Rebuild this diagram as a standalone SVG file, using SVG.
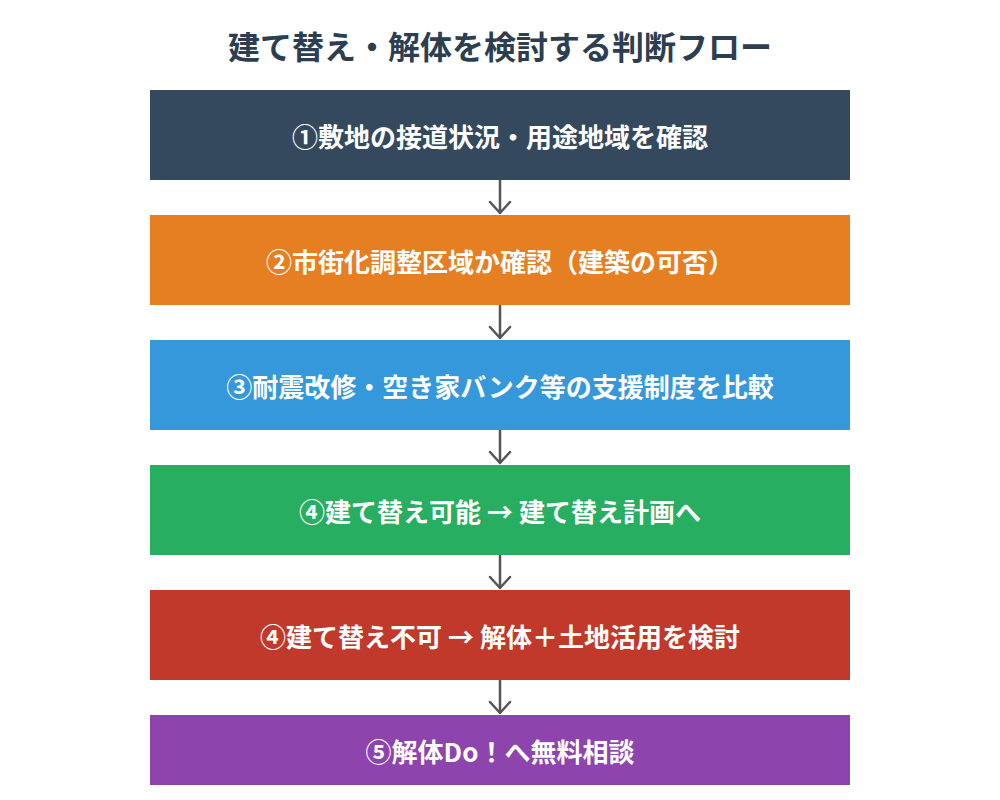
<svg xmlns="http://www.w3.org/2000/svg" width="1000" height="800" viewBox="0 0 1000 800">
<style>
.t{font-family:"Noto Sans CJK JP","Noto Sans",sans-serif;font-weight:bold;text-anchor:middle;dominant-baseline:central}
.title{font-size:32px;fill:#2c3e50}
.lbl{font-size:26px;fill:#ffffff}
.c{stroke:#555555;stroke-width:2.5;fill:none;stroke-linecap:round;stroke-linejoin:round}
</style>
<rect width="1000" height="800" fill="#ffffff"/>
<text class="t title" x="500" y="45">建て替え・解体を検討する判断フロー</text>
<g id="connectors">
<path class="c" d="M500 180V213M490 202L500 213L510 202"/>
<path class="c" d="M500 305V338M490 327L500 338L510 327"/>
<path class="c" d="M500 430V463M490 452L500 463L510 452"/>
<path class="c" d="M500 555V588M490 577L500 588L510 577"/>
<path class="c" d="M500 680V713M490 702L500 713L510 702"/>
</g>
<g id="n1"><rect x="150" y="90" width="700" height="90" fill="#34495e"/><text class="t lbl" x="500" y="135">①敷地の接道状況・用途地域を確認</text></g>
<g id="n2"><rect x="150" y="215" width="700" height="90" fill="#e67e22"/><text class="t lbl" x="500" y="260">②市街化調整区域か確認（建築の可否）</text></g>
<g id="n3"><rect x="150" y="340" width="700" height="90" fill="#3498db"/><text class="t lbl" x="500" y="385">③耐震改修・空き家バンク等の支援制度を比較</text></g>
<g id="n4"><rect x="150" y="465" width="700" height="90" fill="#27ae60"/><text class="t lbl" x="500" y="510">④建て替え可能 → 建て替え計画へ</text></g>
<g id="n5"><rect x="150" y="590" width="700" height="90" fill="#c0392b"/><text class="t lbl" x="500" y="635">④建て替え不可 → 解体＋土地活用を検討</text></g>
<g id="n6"><rect x="150" y="715" width="700" height="70" fill="#8e44ad"/><text class="t lbl" x="500" y="750">⑤解体Do！へ無料相談</text></g>
</svg>
